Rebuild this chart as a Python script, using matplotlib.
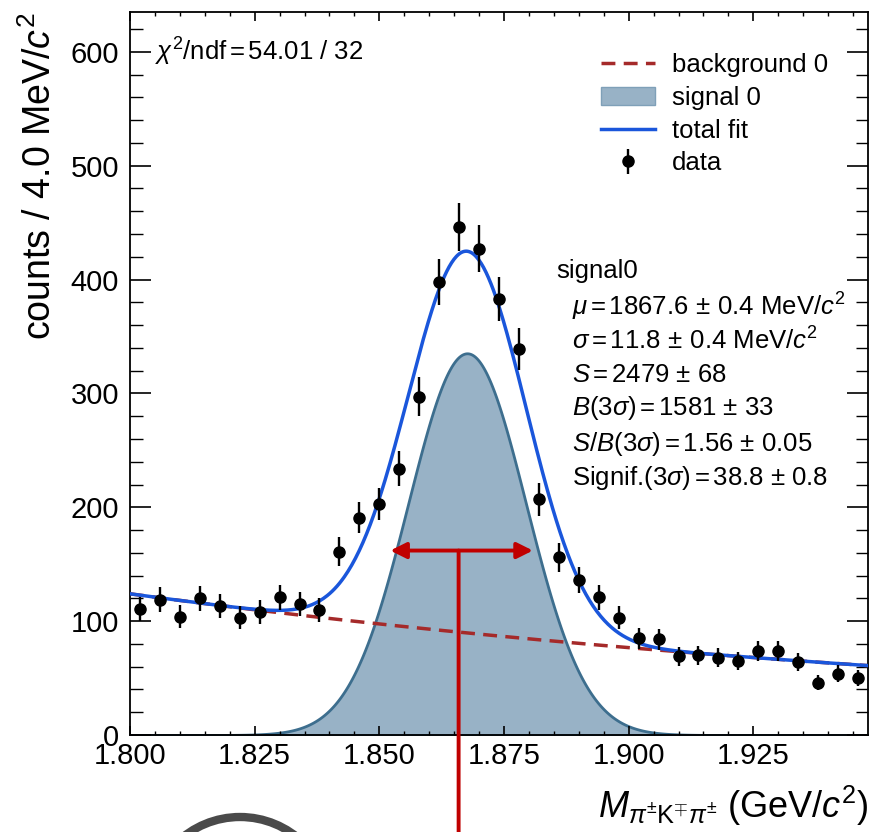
import numpy as np
import matplotlib
matplotlib.use("Agg")
import matplotlib.pyplot as plt
from matplotlib.ticker import MultipleLocator
from matplotlib.patches import Patch, Circle
from matplotlib.lines import Line2D

plt.rcParams['font.family'] = ['Liberation Sans', 'DejaVu Sans']
plt.rcParams['mathtext.fontset'] = 'custom'
plt.rcParams['mathtext.rm'] = 'Liberation Sans'
plt.rcParams['mathtext.it'] = 'Liberation Sans:italic'
plt.rcParams['mathtext.bf'] = 'Liberation Sans:bold'

# ---- data ----
bin_width = 0.004
bin_edges_lo = 1.800
n_bins = 37
bin_centers = bin_edges_lo + bin_width * (np.arange(n_bins) + 0.5)
counts = [111, 119, 104, 120, 113, 103, 108, 121, 115, 110,
          161, 191, 203, 234, 297, 398, 446, 427, 383, 339,
          207, 156, 136, 121, 103, 85, 84, 69, 70, 68,
          65, 74, 74, 64, 46, 54, 50]
count_err = np.sqrt(counts)

# ---- fit results ----
mu = 1.8676        # GeV
sigma = 0.0118     # GeV
n_signal = 2479
bkg_at_low = 124.0
bkg_slope = -4.8   # exponential slope per GeV

# annotation marks
arrow_x = [1.8522, 1.8808]
arrow_y = 162
marker_x = 1.8659

x = np.linspace(1.800, 1.948, 600)
sig = n_signal * bin_width / (sigma * np.sqrt(2 * np.pi)) * np.exp(-0.5 * ((x - mu) / sigma) ** 2)
bkg = bkg_at_low * np.exp(bkg_slope * (x - 1.800))
tot = sig + bkg

fig = plt.figure(figsize=(8.71, 8.32), dpi=100)
ax = fig.add_axes([130/871, 1-735/832, 738/871, 723/832])

sig_fill = '#98b2c6'
sig_edge = '#3d6e8e'
bkg_col = '#a52a2a'
tot_col = '#1a56db'
red = '#c00000'
dash = (0, (4, 2.4))

ax.fill_between(x, 0, sig, facecolor=sig_fill, edgecolor=sig_edge, linewidth=2.0, zorder=1)
ax.plot(x, bkg, color=bkg_col, lw=2.5, ls=dash, zorder=2)
ax.plot(x, tot, color=tot_col, lw=2.5, zorder=3)
eb = ax.errorbar(bin_centers, counts, yerr=count_err, fmt='o', color='black',
                 ms=8, elinewidth=1.7, capsize=0, zorder=4)

ax.set_xlim(1.800, 1.948)
ax.set_ylim(0, 635)
ax.xaxis.set_minor_locator(MultipleLocator(0.005))
ax.yaxis.set_major_locator(MultipleLocator(100))
ax.yaxis.set_minor_locator(MultipleLocator(20))
ax.set_xticks([1.800, 1.825, 1.850, 1.875, 1.900, 1.925])
ax.set_xticklabels(['1.800', '1.825', '1.850', '1.875', '1.900', '1.925'])
ax.tick_params(axis='both', which='both', direction='in', top=True, right=True, labelsize=21)
ax.tick_params(axis='x', which='major', length=6.5, width=1.2, pad=5)
ax.tick_params(axis='x', which='minor', length=3, width=1.0)
ax.tick_params(axis='y', which='major', length=15, width=1.2, pad=8)
ax.tick_params(axis='y', which='minor', length=9, width=1.0)
for s in ax.spines.values():
    s.set_linewidth(1.3)

ax.set_ylabel(r'counts / 4.0 MeV/$c^2$', fontsize=27, loc='top', labelpad=8)
ax.set_xlabel(r'$M_{\pi^{\pm}\mathrm{K}^{\mp}\pi^{\pm}}$ (GeV/$c^2$)', fontsize=26, loc='right', labelpad=10)

ax.text(0.034, 0.945, r'$\chi^2$/ndf$\,$=$\,$54.01 / 32', transform=ax.transAxes,
        fontsize=18.5, va='center', ha='left')

handles = [Line2D([], [], color=bkg_col, lw=2.5, ls=dash),
           Patch(facecolor=sig_fill, edgecolor='#7fa0b8', lw=1),
           Line2D([], [], color=tot_col, lw=2.5),
           eb]
labels = ['background 0', 'signal 0', 'total fit', 'data']
leg = ax.legend(handles, labels, loc='upper right', bbox_to_anchor=(0.977, 0.975), frameon=False,
                fontsize=18.5, handlelength=2.1, handletextpad=0.65, labelspacing=0.34)

lines = ['signal0',
         r'$\mu\,$=$\,$1867.6$\,\pm\,$0.4 MeV/$c^2$',
         r'$\sigma\,$=$\,$11.8$\,\pm\,$0.4 MeV/$c^2$',
         r'$S\,$=$\,$2479 $\pm$ 68',
         r'$B(3\sigma)\,$=$\,$1581 $\pm$ 33',
         r'$S/B(3\sigma)\,$=$\,$1.56 $\pm$ 0.05',
         r'Signif.$(3\sigma)\,$=$\,$38.8 $\pm$ 0.8']
ys_px = [268, 303, 338, 372, 405, 440, 474]
for i, (t, yp) in enumerate(zip(lines, ys_px)):
    xx = 0.577 if i == 0 else 0.599
    ax.text(xx, 1 - (yp - 12) / 723, t, transform=ax.transAxes, fontsize=18.5,
            va='center_baseline', ha='left')

# red annotations
ax.annotate('', xy=(arrow_x[0], arrow_y), xytext=(arrow_x[1], arrow_y), xycoords='data',
            arrowprops=dict(arrowstyle='<|-|>', color=red, lw=2.8, mutation_scale=24,
                            shrinkA=0, shrinkB=0), zorder=6)
ax.annotate('', xy=(marker_x, 0), xycoords=('data', 'figure fraction'),
            xytext=(marker_x, arrow_y), textcoords='data',
            arrowprops=dict(arrowstyle='-', color=red, lw=2.8, shrinkA=0, shrinkB=0),
            zorder=6, annotation_clip=False)

circ = Circle((2.40, -0.76), 0.91, transform=fig.dpi_scale_trans, fill=False,
              edgecolor='#4a4a4a', lw=6)
fig.patches.append(circ)

fig.savefig('out.png', dpi=100)
